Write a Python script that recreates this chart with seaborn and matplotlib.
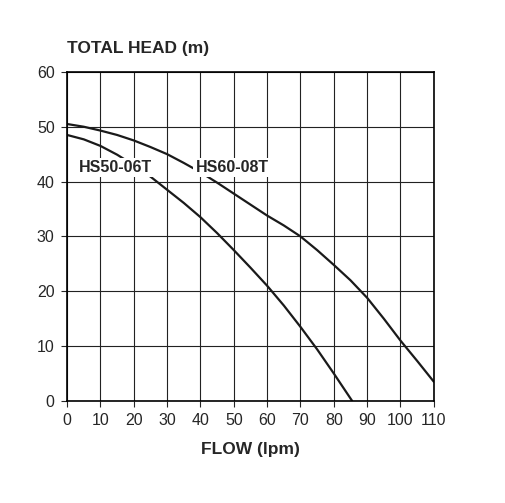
import matplotlib
matplotlib.use("Agg")
import matplotlib.pyplot as plt
import pandas as pd
import seaborn as sns

sns.set_style("white")
plt.rcParams["font.family"] = ["Liberation Sans", "DejaVu Sans"]

hs60_flow = [0, 5, 10, 15, 20, 25, 30, 35, 40, 45, 50, 55, 60, 65, 70, 75, 80, 85, 90, 95, 100, 105, 110]
hs60_head = [50.5, 50.0, 49.3, 48.5, 47.5, 46.3, 45.0, 43.4, 41.7, 39.8, 37.8, 35.8, 33.8, 32.0,
             30.0, 27.5, 24.8, 22.0, 18.8, 15.0, 11.0, 7.3, 3.5]
hs50_flow = [0, 5, 10, 15, 20, 25, 30, 35, 40, 45, 50, 55, 60, 65, 70, 75, 80, 85.5]
hs50_head = [48.5, 47.7, 46.5, 44.9, 43.0, 40.9, 38.5, 36.1, 33.5, 30.6, 27.5, 24.3,
             21.0, 17.4, 13.5, 9.4, 5.0, 0.0]

df = pd.concat([
    pd.DataFrame({"flow": hs60_flow, "head": hs60_head, "model": "HS60-08T"}),
    pd.DataFrame({"flow": hs50_flow, "head": hs50_head, "model": "HS50-06T"}),
])

fig = plt.figure(figsize=(5.05, 5.03), dpi=100)
ax = fig.add_axes([0.133, 0.203, 0.726, 0.654])
sns.lineplot(data=df, x="flow", y="head", units="model", estimator=None,
             color="#1a1a1a", linewidth=1.6, ax=ax, legend=False)

ax.set_xlim(0, 110)
ax.set_ylim(0, 60)
ax.set_xticks(range(0, 111, 10))
ax.set_yticks(range(0, 61, 10))
ax.grid(True, color="#222222", linewidth=0.8)
for s in ax.spines.values():
    s.set_color("black")
    s.set_linewidth(1.2)
ax.tick_params(axis="both", labelsize=11.5, length=4, pad=5, direction="out", bottom=True, left=True)
ax.set_xlabel("FLOW (lpm)", fontsize=12.5, fontweight="bold", labelpad=10)
ax.set_ylabel("")
fig.text(0.133, 0.895, "TOTAL HEAD (m)", fontsize=12.5, fontweight="bold", ha="left")

box = dict(facecolor="white", edgecolor="none", pad=1.5)
ax.text(3.5, 42.5, "HS50-06T", fontsize=11.5, fontweight="bold", va="center", bbox=box)
ax.text(38.5, 42.5, "HS60-08T", fontsize=11.5, fontweight="bold", va="center", bbox=box)

fig.savefig("out.png", dpi=100)
